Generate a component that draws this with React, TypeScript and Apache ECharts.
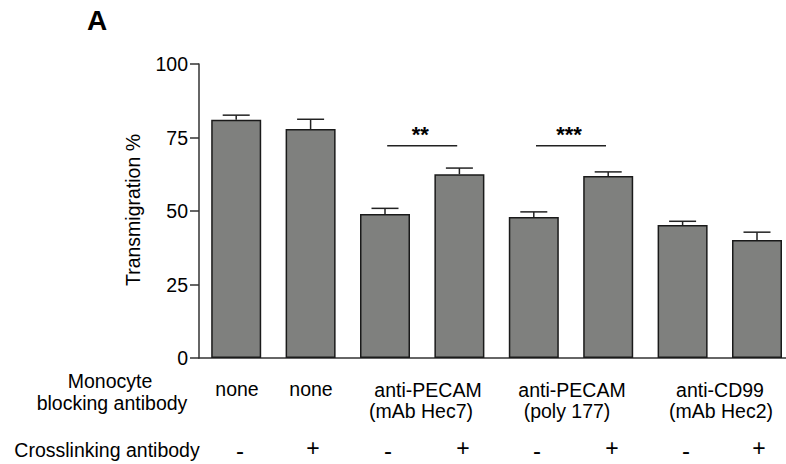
import React, { useEffect, useRef } from "react";
import * as echarts from "echarts";

const categories = ["none -", "none +", "Hec7 -", "Hec7 +", "poly177 -", "poly177 +", "Hec2 -", "Hec2 +"];
const means = [81.0, 77.9, 49.0, 62.5, 48.0, 61.9, 45.2, 40.1];
const upper = [82.6, 81.2, 50.9, 64.6, 49.7, 63.3, 46.5, 42.8];
const yTicks = [0, 25, 50, 75, 100];
const crosslink = ["-", "+", "-", "+", "-", "+", "-", "+"];
const sigFrom = [2, 4];
const sigTo = [3, 5];
const sigValue = [72.2, 72.2];
const sigLabel = ["**", "***"];

const FONT = "'Liberation Sans', Arial, sans-serif";
const FS = 19.5;

export default function App() {
  const ref = useRef<HTMLDivElement>(null);
  useEffect(() => {
    if (!ref.current) return;
    const chart = echarts.init(ref.current, undefined, { renderer: "svg" });
    const plusX = [240, 313, 388, 463, 537, 612, 686, 759];
    const txt = (text: string, x: number, y: number, extra: any = {}) => ({
      type: "text",
      x,
      y,
      style: {
        text,
        fill: "#000",
        font: `${FS}px ${FONT}`,
        align: "center",
        verticalAlign: "middle",
        ...extra,
      },
    });
    const graphics: any[] = [
      txt("A", 97, 20, { font: `bold 28px ${FONT}` }),
      { ...txt("Transmigration %", 133, 210), rotation: Math.PI / 2 },
      txt("Monocyte", 110, 381),
      txt("blocking antibody", 112, 403),
      txt("none", 237, 389),
      txt("none", 311, 389),
      txt("anti-PECAM", 428, 390),
      txt("(mAb Hec7)", 421, 411),
      txt("anti-PECAM", 572, 390),
      txt("(poly 177)", 567, 411),
      txt("anti-CD99", 720, 390),
      txt("(mAb Hec2)", 721, 411),
      txt("Crosslinking antibody", 107, 450),
      ...crosslink.map((c, i) =>
        txt(c, plusX[i], c === "+" ? 448 : 450, { font: `${c === "+" ? 23 : 24}px ${FONT}` })
      ),
    ];
    chart.setOption({
      animation: false,
      grid: { left: 199, top: 64, height: 294, width: 595.2, outerBoundsMode: "none", containLabel: false },
      xAxis: {
        type: "category",
        data: categories,
        axisLine: { lineStyle: { color: "#333", width: 1.5 } },
        axisTick: { show: false },
        axisLabel: { show: false },
      },
      yAxis: {
        type: "value",
        min: 0,
        max: 100,
        interval: 25,
        splitLine: { show: false },
        axisLine: { show: true, lineStyle: { color: "#333", width: 1.5 } },
        axisTick: { show: true, length: 9, lineStyle: { color: "#333", width: 1.5 } },
        axisLabel: {
          margin: 11,
          color: "#000",
          fontSize: FS,
          fontFamily: FONT,
          formatter: (v: number) => (yTicks.includes(v) ? String(v) : ""),
        },
      },
      series: [
        {
          type: "bar",
          data: means,
          barWidth: 50,
          itemStyle: { color: "#7f807e", borderColor: "#1a1a1a", borderWidth: 1.5 },
        },
        {
          type: "custom",
          data: means.map((m, i) => [i, m, upper[i]]),
          renderItem: (params: any, api: any) => {
            const i = api.value(0);
            const top = api.coord([i, api.value(1)]);
            const up = api.coord([i, api.value(2)]);
            const st = { stroke: "#222", lineWidth: 1.5 };
            return {
              type: "group",
              children: [
                { type: "line", shape: { x1: top[0], y1: top[1], x2: up[0], y2: up[1] }, style: st },
                { type: "line", shape: { x1: up[0] - 13.5, y1: up[1], x2: up[0] + 13.5, y2: up[1] }, style: st },
              ],
            };
          },
          z: 3,
        },
        {
          type: "custom",
          data: sigFrom.map((f, k) => [f, sigTo[k], sigValue[k], k]),
          renderItem: (params: any, api: any) => {
            const a = api.coord([api.value(0), api.value(2)]);
            const b = api.coord([api.value(1), api.value(2)]);
            const mid = (a[0] + b[0]) / 2;
            const k = api.value(3);
            return {
              type: "group",
              children: [
                { type: "line", shape: { x1: mid - 35, y1: a[1], x2: mid + 35, y2: a[1] }, style: { stroke: "#222", lineWidth: 1.5 } },
                {
                  type: "text",
                  x: mid - 2,
                  y: a[1] - 11,
                  style: { text: sigLabel[k], fill: "#000", font: `bold 22px ${FONT}`, align: "center", verticalAlign: "middle" },
                },
              ],
            };
          },
          z: 3,
        },
      ],
      graphic: graphics,
    });
    return () => chart.dispose();
  }, []);
  return <div ref={ref} style={{ position: "absolute", left: 0, top: 0, width: 786, height: 464 }} />;
}
